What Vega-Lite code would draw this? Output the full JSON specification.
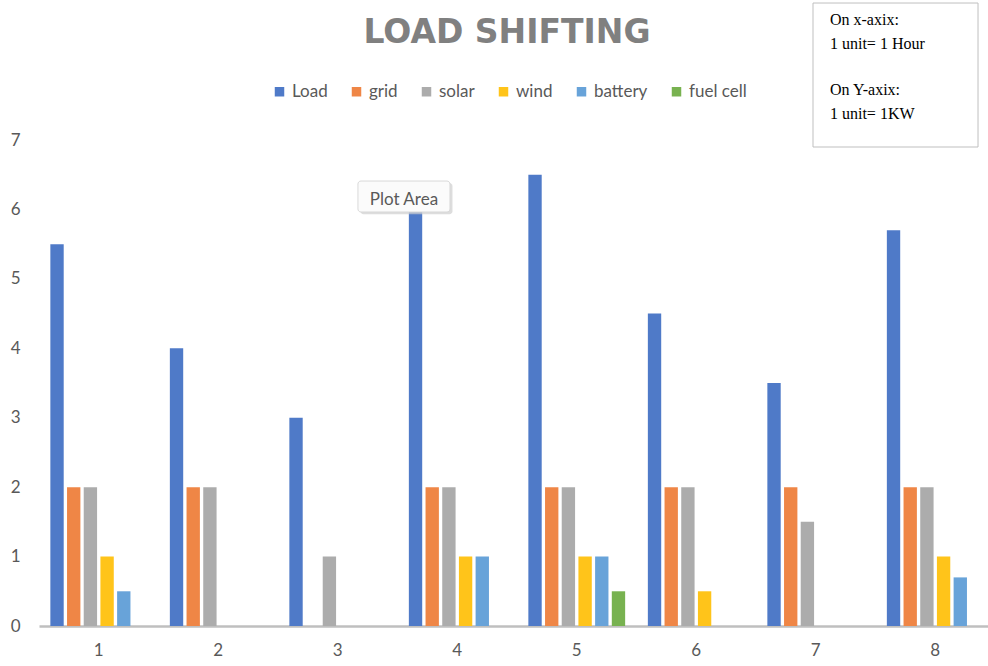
{
  "$schema": "https://vega.github.io/schema/vega-lite/v6.json",
  "width": 956,
  "height": 486,
  "autosize": {"type": "none"},
  "padding": {"left": 39, "top": 140, "right": 0, "bottom": 40},
  "background": "white",
  "config": {"view": {"stroke": null}, "font": "Lato"},
  "datasets": {
    "energy": [
      {"hour": 1, "source": "Load", "kw": 5.5}, {"hour": 1, "source": "grid", "kw": 2}, {"hour": 1, "source": "solar", "kw": 2}, {"hour": 1, "source": "wind", "kw": 1}, {"hour": 1, "source": "battery", "kw": 0.5}, {"hour": 1, "source": "fuel cell", "kw": 0},
      {"hour": 2, "source": "Load", "kw": 4}, {"hour": 2, "source": "grid", "kw": 2}, {"hour": 2, "source": "solar", "kw": 2}, {"hour": 2, "source": "wind", "kw": 0}, {"hour": 2, "source": "battery", "kw": 0}, {"hour": 2, "source": "fuel cell", "kw": 0},
      {"hour": 3, "source": "Load", "kw": 3}, {"hour": 3, "source": "grid", "kw": 0}, {"hour": 3, "source": "solar", "kw": 1}, {"hour": 3, "source": "wind", "kw": 0}, {"hour": 3, "source": "battery", "kw": 0}, {"hour": 3, "source": "fuel cell", "kw": 0},
      {"hour": 4, "source": "Load", "kw": 6}, {"hour": 4, "source": "grid", "kw": 2}, {"hour": 4, "source": "solar", "kw": 2}, {"hour": 4, "source": "wind", "kw": 1}, {"hour": 4, "source": "battery", "kw": 1}, {"hour": 4, "source": "fuel cell", "kw": 0},
      {"hour": 5, "source": "Load", "kw": 6.5}, {"hour": 5, "source": "grid", "kw": 2}, {"hour": 5, "source": "solar", "kw": 2}, {"hour": 5, "source": "wind", "kw": 1}, {"hour": 5, "source": "battery", "kw": 1}, {"hour": 5, "source": "fuel cell", "kw": 0.5},
      {"hour": 6, "source": "Load", "kw": 4.5}, {"hour": 6, "source": "grid", "kw": 2}, {"hour": 6, "source": "solar", "kw": 2}, {"hour": 6, "source": "wind", "kw": 0.5}, {"hour": 6, "source": "battery", "kw": 0}, {"hour": 6, "source": "fuel cell", "kw": 0},
      {"hour": 7, "source": "Load", "kw": 3.5}, {"hour": 7, "source": "grid", "kw": 2}, {"hour": 7, "source": "solar", "kw": 1.5}, {"hour": 7, "source": "wind", "kw": 0}, {"hour": 7, "source": "battery", "kw": 0}, {"hour": 7, "source": "fuel cell", "kw": 0},
      {"hour": 8, "source": "Load", "kw": 5.7}, {"hour": 8, "source": "grid", "kw": 2}, {"hour": 8, "source": "solar", "kw": 2}, {"hour": 8, "source": "wind", "kw": 1}, {"hour": 8, "source": "battery", "kw": 0.7}, {"hour": 8, "source": "fuel cell", "kw": 0}
    ]
  },
  "layer": [
    {
      "data": {"name": "energy"},
      "mark": {"type": "bar"},
      "encoding": {
        "x": {"field": "hour", "type": "ordinal", "scale": {"paddingInner": 0.19, "paddingOuter": 0.095},
          "axis": {"title": null, "labelAngle": 0, "ticks": false, "domainColor": "#bfbfbf", "domainWidth": 2.5, "labelFontSize": 17, "labelPadding": 16, "labelColor": "#595959", "labelFont": "Lato"}},
        "xOffset": {"field": "source", "type": "nominal", "sort": ["Load", "grid", "solar", "wind", "battery", "fuel cell"], "scale": {"paddingInner": 0.2}},
        "y": {"field": "kw", "type": "quantitative", "scale": {"domain": [0, 7], "nice": false},
          "axis": {"title": null, "domain": false, "ticks": false, "grid": false, "values": [0, 1, 2, 3, 4, 5, 6, 7], "labelFontSize": 17, "labelColor": "#595959", "labelPadding": 19, "labelFont": "Lato"}},
        "color": {"field": "source", "type": "nominal", "sort": ["Load", "grid", "solar", "wind", "battery", "fuel cell"],
          "scale": {"domain": ["Load", "grid", "solar", "wind", "battery", "fuel cell"], "range": ["#4f7ac8", "#ef8646", "#acacac", "#ffc41a", "#68a3d9", "#78b250"]},
          "legend": {"title": null, "orient": "none", "legendX": 232, "legendY": -57, "direction": "horizontal", "symbolType": "square", "symbolSize": 90, "symbolStrokeWidth": 0, "labelFontSize": 17, "labelColor": "#595959", "labelFont": "Lato", "columnPadding": 20, "labelOffset": 4}}
      }
    },
    {
      "data": {"values": [{}]},
      "encoding": {},
      "layer": [
        {
          "mark": {"type": "text", "font": "DejaVu Sans", "fontSize": 33, "fontWeight": "bold", "color": "#808080", "align": "center", "baseline": "alphabetic"},
          "encoding": {
            "x": {"datum": 4.416, "type": "quantitative", "scale": {"domain": [0.5, 8.5], "nice": false, "zero": false}, "axis": null},
            "y": {"datum": 8.4, "type": "quantitative", "scale": {"domain": [0, 7], "nice": false}, "axis": null},
            "text": {"value": "LOAD SHIFTING"}
          }
        },
        {
          "mark": {"type": "rect", "fill": "white", "stroke": "#bfbfbf", "strokeWidth": 1},
          "encoding": {
            "x": {"datum": 6.977, "type": "quantitative"},
            "x2": {"datum": 8.358},
            "y": {"datum": 8.973, "type": "quantitative"},
            "y2": {"datum": 6.899}
          }
        },
        {
          "mark": {"type": "text", "font": "Liberation Serif", "fontSize": 16, "color": "#000000", "align": "left", "baseline": "alphabetic", "lineHeight": 24},
          "encoding": {
            "x": {"datum": 7.119, "type": "quantitative"},
            "y": {"datum": 8.656, "type": "quantitative"},
            "text": {"value": ["On x-axix:", "1 unit= 1 Hour"]}
          }
        },
        {
          "mark": {"type": "text", "font": "Liberation Serif", "fontSize": 16, "color": "#000000", "align": "left", "baseline": "alphabetic", "lineHeight": 24},
          "encoding": {
            "x": {"datum": 7.119, "type": "quantitative"},
            "y": {"datum": 7.648, "type": "quantitative"},
            "text": {"value": ["On Y-axix:", "1 unit= 1KW"]}
          }
        },
        {
          "mark": {"type": "rect", "fill": "#cfcfcf", "cornerRadius": 3, "opacity": 0.7},
          "encoding": {
            "x": {"datum": 3.19, "type": "quantitative"},
            "x2": {"datum": 3.96},
            "y": {"datum": 6.38, "type": "quantitative"},
            "y2": {"datum": 5.93}
          }
        },
        {
          "mark": {"type": "rect", "fill": "#fbfbfb", "stroke": "#d9d9d9", "cornerRadius": 3},
          "encoding": {
            "x": {"datum": 3.169, "type": "quantitative"},
            "x2": {"datum": 3.939},
            "y": {"datum": 6.409, "type": "quantitative"},
            "y2": {"datum": 5.963}
          }
        },
        {
          "mark": {"type": "text", "font": "Lato", "fontSize": 17, "color": "#595959", "align": "center", "baseline": "alphabetic"},
          "encoding": {
            "x": {"datum": 3.554, "type": "quantitative"},
            "y": {"datum": 6.064, "type": "quantitative"},
            "text": {"value": "Plot Area"}
          }
        }
      ]
    }
  ],
  "resolve": {"scale": {"x": "independent", "y": "independent"}}
}
